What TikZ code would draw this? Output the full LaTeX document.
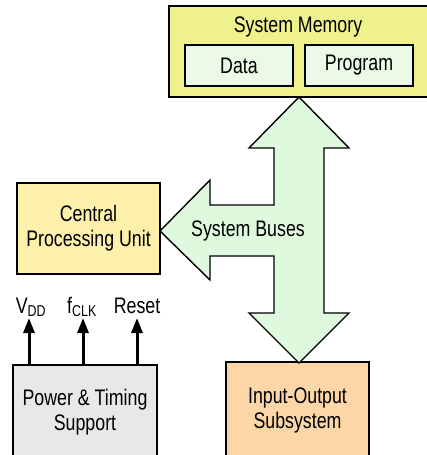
\documentclass[tikz,border=0pt]{standalone}
\usepackage{fontspec}
\setmainfont{Liberation Sans}[FakeStretch=0.79]
\usetikzlibrary{arrows.meta}

\definecolor{memfill}{RGB}{238,241,140}
\definecolor{cellfill}{RGB}{234,250,230}
\definecolor{cpufill}{RGB}{252,240,170}
\definecolor{iofill}{RGB}{252,214,166}
\definecolor{ptsfill}{RGB}{232,232,232}
\definecolor{busfill}{RGB}{222,249,222}

\begin{document}
\begin{tikzpicture}[x=1pt,y=-1pt,line join=miter,
    font=\fontsize{22.5}{25}\selectfont,
    box/.style={draw,line width=1.4pt,inner sep=0pt},
    sig/.style={line width=3pt,-{Triangle[width=11pt,length=15pt]}}]
        \clip (0,0) rectangle (427,455);

        % memory block with its two parts
        \node[box,fill=memfill,minimum width=261pt,minimum height=91pt] (mem) at (299.5,51.5) {};
        \node (memtitle) at (298,27) {System Memory};
        \node[box,fill=cellfill,minimum width=108pt,minimum height=41pt] (data) at (239,65.5) {Data};
        \node[box,fill=cellfill,minimum width=108pt,minimum height=41pt] (prog) at (359,65.5) {Program};

        \node[box,fill=cpufill,minimum width=143pt,minimum height=91pt,align=center] (cpu) at (88.5,228.5) {Central\\Processing Unit};
        \node[box,fill=ptsfill,minimum width=144pt,minimum height=95pt,align=center] (pts) at (85,412.5) {Power \& Timing\\Support};
        \node[box,fill=iofill,minimum width=143pt,minimum height=97pt,align=center] (io) at (297.5,410.5) {Input-Output\\Subsystem};

        % the bus arrow
        \draw[line width=1.4pt,fill=busfill] (299,97) -- (349,148) -- (324,148) -- (324,313)
            -- (349,313) -- (299,363) -- (249,313) -- (274,313) -- (274,256)
            -- (210,256) -- (210,280) -- (160,231) -- (210,180) -- (210,205)
            -- (274,205) -- (274,148) -- (249,148) -- cycle;
        \node (bus) at (248,231) {System Buses};

        % supply and control lines
        \node[inner sep=1pt,anchor=base] (vdd) at (31,313) {V\textsubscript{DD}};
        \node[inner sep=1pt,anchor=base] (fclk) at (82,313) {f\textsubscript{CLK}};
        \node[inner sep=1pt,anchor=base] (reset) at (137,313) {Reset};
        \draw[sig] (pts.north -| 29,0) -- (29,318);
        \draw[sig] (pts.north -| 83,0) -- (83,318);
        \draw[sig] (pts.north -| 137,0) -- (137,318);
      \end{tikzpicture}
\end{document}
